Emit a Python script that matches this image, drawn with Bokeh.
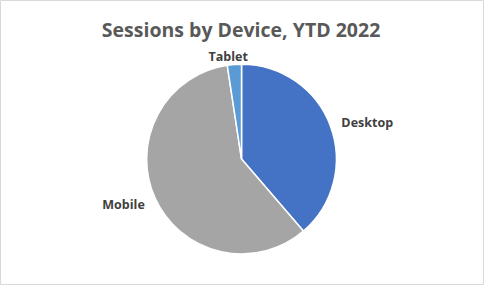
import numpy as np
from bokeh.plotting import figure
from bokeh.models import Range1d, ColumnDataSource
from bokeh.core.properties import value
from bokeh.embed import file_html
from bokeh.resources import INLINE

title_text = "Sessions by Device, YTD 2022"
categories = ["Desktop", "Mobile", "Tablet"]
shares = [38.7, 58.9, 2.4]
colors = ["#4472C4", "#A5A5A5", "#5B9BD5"]

W, H = 484, 285
RW, RH = 500, 301  # reference coordinate frame
p = figure(width=W, height=H, output_backend="svg", toolbar_location=None,
           x_range=Range1d(0, RW), y_range=Range1d(0, RH), min_border=0,
           background_fill_color="white", border_fill_color="white")
p.axis.visible = False
p.grid.visible = False
p.outline_line_color = "#D9D9D9"
p.outline_line_width = 1

cx, cy, r = 249.0, RH - 167.5, 98.0
vals = np.array(shares, dtype=float)
frac = vals / vals.sum()
cum = np.concatenate([[0.0], np.cumsum(frac)])
start = np.pi / 2 - cum[:-1] * 2 * np.pi
end = np.pi / 2 - cum[1:] * 2 * np.pi

src = ColumnDataSource(dict(start=start, end=end, color=colors, cat=categories))
p.wedge(x=cx, y=cy, radius=r, start_angle="start", end_angle="end", direction="clock",
        fill_color="color", line_color="white", line_width=1.5, source=src)

# data labels, outside end
mid = (cum[:-1] + cum[1:]) / 2 * 2 * np.pi  # clockwise from top
lr = 110.0
nudge_x = [0.0, 0.0, -5.5]
nudge_y = [0.0, -2.5, -1.5]
lx, ly, al, bl = [], [], [], []
for i, m in enumerate(mid):
    s, c = np.sin(m), np.cos(m)
    lx.append(cx + lr * s + nudge_x[i])
    ly.append(cy + lr * c + nudge_y[i])
    if s > 0.5:
        al.append("left")
    elif s < -0.5:
        al.append("right")
    else:
        al.append("center")
    bl.append("alphabetic" if c > 0.8 else "middle")
lsrc = ColumnDataSource(dict(x=lx, y=ly, t=categories, a=al, b=bl))
p.text(x="x", y="y", text="t", text_align="a", text_baseline="b", source=lsrc,
       text_font=value("Open Sans"), text_font_style="bold", text_font_size="12.5px",
       text_color="#404040")

p.text(x=[248.5], y=[RH - 31], text=[title_text], text_align="center", text_baseline="alphabetic",
       text_font=value("Open Sans"), text_font_style="bold", text_font_size="19.5px",
       text_color="#595959")

open("out.html", "w").write(file_html(p, INLINE))
